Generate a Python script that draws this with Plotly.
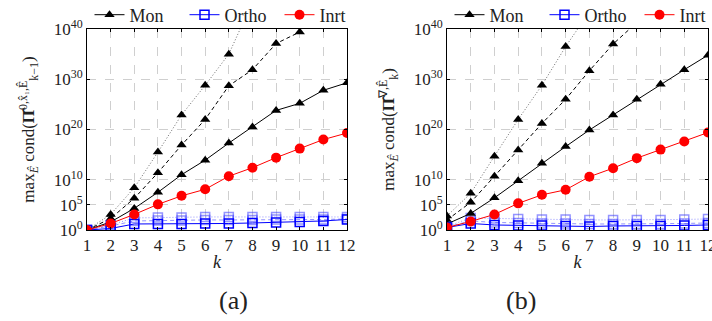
import plotly.graph_objects as go

k = list(range(1, 13))

# exponents (log10 of max cond)
# (a) panel
a_mon_solid = [0.0, 1.6, 4.3, 7.5, 11.0, 13.9, 17.3, 20.5, 23.8, 25.2, 27.8, 29.3]
a_mon_dash = [0.0, 2.3, 6.3, 11.4, 16.9, 22.0, 28.7, 31.9, 37.1, 39.4]
a_mon_dot = [0.0, 3.1, 8.4, 15.5, 22.9, 28.8, 35.0, 45.4]
a_ortho_solid = [0.0, 0.3, 1.2, 1.2, 1.2, 1.3, 1.3, 1.4, 1.5, 1.6, 1.8, 2.1]
a_ortho_dash = [0.0, 0.8, 1.8, 1.9, 1.9, 2.0, 2.0, 2.0, 2.1, 2.1, 2.1, 2.2]
a_ortho_dot = [0.0, 1.0, 2.4, 2.5, 2.5, 2.6, 2.6, 2.6, 2.6, 2.6, 2.6, 2.6]
a_inrt = [0.0, 1.3, 3.1, 5.1, 6.8, 8.1, 10.7, 12.4, 14.4, 16.2, 18.0, 19.3]

# (b) panel
b_mon_solid = [1.2, 3.3, 6.4, 9.8, 13.3, 16.6, 19.9, 22.9, 26.0, 29.0, 31.9, 34.8]
b_mon_dash = [2.0, 5.5, 10.7, 15.9, 21.2, 26.0, 31.7, 37.0, 41.3]
b_mon_dot = [2.8, 7.3, 14.7, 22.0, 28.8, 36.5, 43.4]
b_ortho_solid = [0.5, 1.3, 1.0, 0.9, 0.9, 0.8, 0.7, 0.8, 0.8, 0.8, 0.9, 1.0]
b_ortho_dash = [0.6, 1.8, 1.5, 1.4, 1.3, 1.3, 1.2, 1.2, 1.2, 1.2, 1.3, 1.4]
b_ortho_dot = [0.7, 2.4, 2.3, 2.2, 2.1, 2.1, 2.0, 2.0, 2.0, 2.0, 2.1, 2.2]
b_inrt = [0.5, 1.7, 3.1, 5.3, 7.0, 8.0, 10.6, 12.3, 14.3, 16.0, 17.6, 19.4]

y_tick_exp = [0, 5, 10, 20, 30, 40]
x_ticks = k
panel_labels = ["(a)", "(b)"]
legend_names = ["Mon", "Ortho", "Inrt"]

FONT = "Liberation Serif"
BLACK = "#000000"
BLUE = "#0000ff"
LBLUE = "rgba(60,60,255,0.55)"
RED = "#ff0000"
DASH = "4px,3px"
DOT = "1px,2px"

fig = go.Figure()


def pw(vals):
    return [10.0 ** v for v in vals]


def add_panel(col, mon, ortho, inrt, legend):
    xa = "x" if col == 1 else "x2"
    ya = "y" if col == 1 else "y2"
    mon_s, mon_d, mon_o = mon
    or_s, or_d, or_o = ortho
    # Mon
    fig.add_trace(go.Scatter(x=k[:len(mon_o)], y=pw(mon_o), mode="lines+markers",
                             line=dict(color="#444444", width=0.8, dash=DOT),
                             marker=dict(symbol="triangle-up", size=9, color=BLACK),
                             showlegend=False, xaxis=xa, yaxis=ya))
    fig.add_trace(go.Scatter(x=k[:len(mon_d)], y=pw(mon_d), mode="lines+markers",
                             line=dict(color=BLACK, width=1, dash=DASH),
                             marker=dict(symbol="triangle-up", size=9, color=BLACK),
                             showlegend=False, xaxis=xa, yaxis=ya))
    # Ortho
    fig.add_trace(go.Scatter(x=k, y=pw(or_o), mode="lines+markers",
                             line=dict(color=LBLUE, width=1, dash=DOT),
                             marker=dict(symbol="square-open", size=9, color=LBLUE, line=dict(width=1.5)),
                             showlegend=False, xaxis=xa, yaxis=ya))
    fig.add_trace(go.Scatter(x=k, y=pw(or_d), mode="lines+markers",
                             line=dict(color=LBLUE, width=1, dash=DASH),
                             marker=dict(symbol="square-open", size=9, color=LBLUE, line=dict(width=1.5)),
                             showlegend=False, xaxis=xa, yaxis=ya))
    fig.add_trace(go.Scatter(x=k, y=pw(mon_s), mode="lines+markers", name=legend_names[0],
                             line=dict(color=BLACK, width=1),
                             marker=dict(symbol="triangle-up", size=9, color=BLACK),
                             legend=legend, xaxis=xa, yaxis=ya))
    fig.add_trace(go.Scatter(x=k, y=pw(or_s), mode="lines+markers", name=legend_names[1],
                             line=dict(color=BLUE, width=1),
                             marker=dict(symbol="square-open", size=9, color=BLUE, line=dict(width=1.5)),
                             legend=legend, xaxis=xa, yaxis=ya))
    fig.add_trace(go.Scatter(x=k, y=pw(inrt), mode="lines+markers", name=legend_names[2],
                             line=dict(color=RED, width=1),
                             marker=dict(symbol="circle", size=10, color=RED),
                             legend=legend, xaxis=xa, yaxis=ya))


add_panel(1, (a_mon_solid, a_mon_dash, a_mon_dot), (a_ortho_solid, a_ortho_dash, a_ortho_dot), a_inrt, "legend")
add_panel(2, (b_mon_solid, b_mon_dash, b_mon_dot), (b_ortho_solid, b_ortho_dash, b_ortho_dot), b_inrt, "legend2")

ytickvals = [10.0 ** e for e in y_tick_exp]
yticktext = ["10<sup>%d</sup>" % e for e in y_tick_exp]

W, H = 712, 321
axis_common = dict(showline=True, linecolor="black", linewidth=1, mirror="ticks",
                   ticks="inside", ticklen=3, tickcolor="black", automargin=False,
                   showgrid=True, gridcolor="#cfcfcf", griddash="dash", gridwidth=1,
                   zeroline=False, tickfont=dict(family=FONT, size=17, color="#222"))

xdom1 = [87 / W, 347 / W]
xdom2 = [447 / W, 708 / W]
ydom = [1 - 230 / H, 1 - 29 / H]

ytitle_a = "max<sub><i>Ê</i></sub> cond(<b>Π̂</b><sup>0,x̂₁,Ê</sup><sub>k−1</sub>)"
ytitle_b = "max<sub><i>Ê</i></sub> cond(<b>Π̂</b><sup>∇,Ê</sup><sub>k</sub>)"

leg_common = dict(orientation="h", y=1 - 15 / H, yanchor="middle",
                  font=dict(family=FONT, size=18, color="#222"), bgcolor="rgba(0,0,0,0)",
                  itemwidth=30, entrywidth=50, traceorder="normal", tracegroupgap=0)

fig.update_layout(
    width=W, height=H,
    margin=dict(l=0, r=0, t=0, b=0, autoexpand=False),
    paper_bgcolor="white", plot_bgcolor="white",
    font=dict(family=FONT, color="#222"),
    xaxis=dict(domain=xdom1, anchor="y", range=[1, 12], tickvals=x_ticks,
               title=dict(text="<i>k</i>", font=dict(size=18), standoff=0), **axis_common),
    yaxis=dict(domain=ydom, anchor="x", type="log", range=[0, 40], tickvals=ytickvals, ticktext=yticktext,
               title=dict(text=ytitle_a, font=dict(size=17), standoff=14), **axis_common),
    xaxis2=dict(domain=xdom2, anchor="y2", range=[1, 12], tickvals=x_ticks, ticklabeloverflow="allow",
                title=dict(text="<i>k</i>", font=dict(size=18), standoff=0), **axis_common),
    yaxis2=dict(domain=ydom, anchor="x2", type="log", range=[0, 40], tickvals=ytickvals, ticktext=yticktext,
                title=dict(text=ytitle_b, font=dict(size=17), standoff=14), **axis_common),
    legend=dict(x=232 / W, xanchor="center", **leg_common),
    legend2=dict(x=592 / W, xanchor="center", **leg_common),
    annotations=[
        dict(text=panel_labels[0], x=(xdom1[0] + xdom1[1]) / 2, y=1 - 300 / H, xref="paper", yref="paper",
             yanchor="middle", showarrow=False, font=dict(family=FONT, size=26, color="#222")),
        dict(text=panel_labels[1], x=538 / W, y=1 - 300 / H, xref="paper", yref="paper",
             yanchor="middle", showarrow=False, font=dict(family=FONT, size=26, color="#222")),
    ],
)

fig.write_html("out.html")
